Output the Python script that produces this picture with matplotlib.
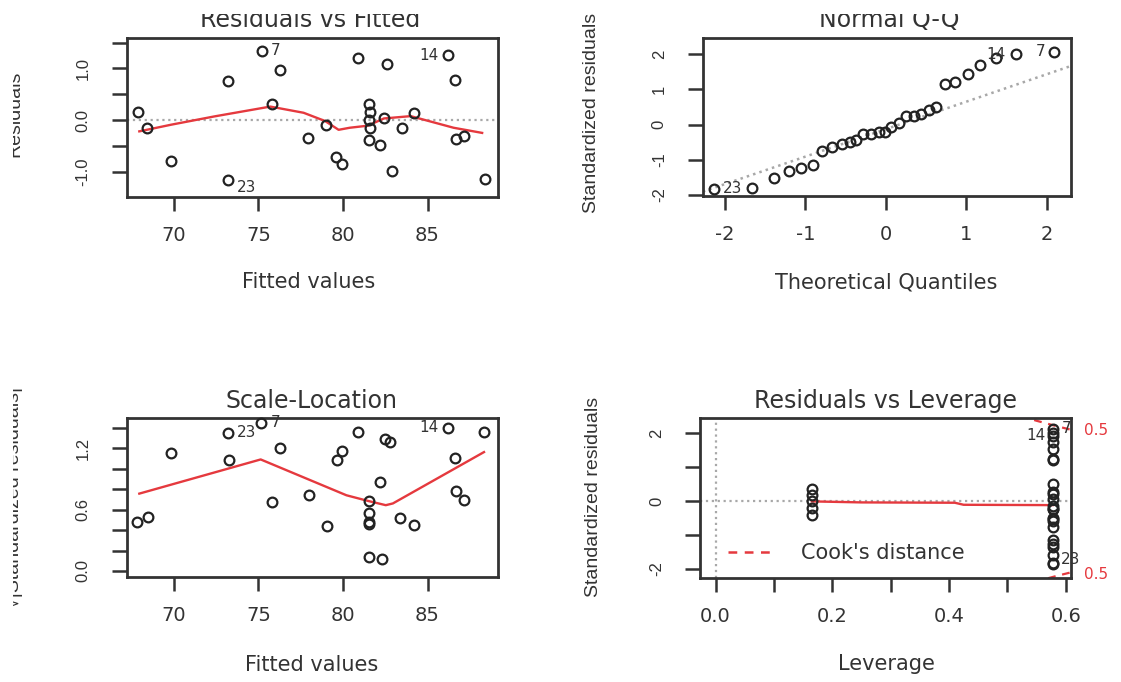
import matplotlib
matplotlib.use("Agg")
import matplotlib.pyplot as plt
from matplotlib.patches import Rectangle
from matplotlib.lines import Line2D
import matplotlib.transforms as mtransforms

plt.rcParams['font.family'] = ['DejaVu Sans']

# ------------------------------------------------------------------ data
# Panel 1: Residuals vs Fitted
fitted = [67.9, 68.4, 69.85, 73.2, 73.2, 75.2, 75.8, 76.3, 77.9, 79.0,
          79.6, 79.95, 80.9, 81.55, 81.6, 81.55, 81.6, 81.55, 82.2, 82.4,
          82.6, 82.9, 83.5, 84.2, 86.2, 86.6, 86.7, 87.15, 88.4]
residuals = [0.16, -0.15, -0.80, 0.75, -1.16, 1.34, 0.31, 0.96, -0.34, -0.10,
             -0.72, -0.85, 1.20, 0.31, 0.16, 0.0, -0.16, -0.39, -0.49, 0.03,
             1.08, -0.99, -0.15, 0.13, 1.25, 0.78, -0.36, -0.31, -1.14]
rf_smooth_x = [67.95, 69.85, 72.4, 75.7, 77.67, 78.94, 79.74, 80.4, 81.47, 82.42, 84.0, 86.54, 88.23]
rf_smooth_y = [-0.22, -0.09, 0.07, 0.26, 0.14, -0.02, -0.19, -0.15, -0.11, 0.03, 0.075, -0.15, -0.25]
rf_labels = {5: "7", 4: "23", 24: "14"}

# Panel 2: Normal Q-Q
qq_theoretical = [-2.14, -1.66, -1.39, -1.20, -1.05, -0.91, -0.79, -0.67, -0.55, -0.45,
                  -0.37, -0.28, -0.18, -0.09, -0.01, 0.07, 0.16, 0.25, 0.35, 0.44,
                  0.54, 0.62, 0.74, 0.86, 1.02, 1.17, 1.37, 1.62, 2.09]
qq_standardized = [-1.82, -1.79, -1.51, -1.32, -1.22, -1.16, -0.75, -0.64, -0.55, -0.50,
                   -0.43, -0.26, -0.26, -0.22, -0.20, -0.07, 0.04, 0.23, 0.25, 0.30,
                   0.41, 0.49, 1.15, 1.20, 1.45, 1.69, 1.88, 2.00, 2.07]
qq_line_intercept = -0.13
qq_line_slope = 0.78
qq_labels = {0: "23", 27: "14", 28: "7"}

# Panel 3: Scale-Location
sl_fitted = [67.83, 68.47, 69.85, 73.17, 73.26, 75.17, 75.8, 76.3, 77.98, 79.04,
             79.64, 79.96, 80.87, 81.55, 81.55, 81.55, 81.55, 81.55, 82.3, 82.2,
             82.5, 82.8, 83.4, 84.2, 86.2, 86.6, 86.7, 87.15, 88.36]
sl_sqrt_std = [0.474, 0.529, 1.153, 1.351, 1.081, 1.448, 0.675, 1.205, 0.740, 0.442,
               1.088, 1.169, 1.357, 0.682, 0.562, 0.48, 0.455, 0.133, 0.117, 0.870,
               1.286, 1.26, 0.519, 0.448, 1.399, 1.107, 0.782, 0.692, 1.357]
sl_smooth_x = [67.95, 75.13, 80.2, 81.47, 82.53, 82.95, 88.34]
sl_smooth_y = [0.756, 1.09, 0.74, 0.685, 0.643, 0.66, 1.162]
sl_labels = {3: "23", 5: "7", 24: "14"}

# Panel 4: Residuals vs Leverage
leverage = [0.165] * 5 + [0.578] * 24
lev_std_resid = [0.35, 0.18, 0.0, -0.20, -0.40,
                 2.14, 2.00, 1.92, 1.73, 1.54, 1.25, 1.20, 0.50, 0.26, 0.21,
                 0.05, -0.16, -0.24, -0.24, -0.50, -0.54, -0.58, -0.78, -1.15, -1.28,
                 -1.36, -1.58, -1.82, -1.86]
lev_smooth_x = [0.165, 0.25, 0.41, 0.425, 0.578]
lev_smooth_y = [-0.01, -0.04, -0.05, -0.11, -0.12]
cook_lev = [0.45, 0.48, 0.52, 0.55, 0.58, 0.61]
cook_upper = [2.81, 2.69, 2.52, 2.37, 2.23, 2.10]
cook_lower = [-2.81, -2.69, -2.52, -2.37, -2.23, -2.10]
cook_level_label = "0.5"
lev_labels = {5: "7", 6: "14", 28: "23"}

# ------------------------------------------------------------------ style
W, H = 1121, 682
DARK = '#333333'
PT = '#222222'
RED = '#e5393e'
GREY = '#a8a8a8'

fig = plt.figure(figsize=(W / 100, H / 100), dpi=100)
fig.patch.set_facecolor('white')


def rect(l, t, r, b):
    return [l / W, 1 - b / H, (r - l) / W, (b - t) / H]


def ftext(px, py, s, **kw):
    kw.setdefault('color', DARK)
    return fig.text(px / W, 1 - py / H, s, **kw)


def style(ax, xticks, xlabels, yticks, ylabels, xlim, ylim):
    ax.set_xlim(*xlim)
    ax.set_ylim(*ylim)
    ax.set_xticks(xticks)
    ax.set_xticklabels(xlabels, fontsize=14, color=DARK)
    ax.set_yticks(yticks)
    ax.set_yticklabels(ylabels, fontsize=12, color=DARK,
                       family=['Liberation Sans', 'DejaVu Sans'],
                       rotation=90, va='center')
    for s in ax.spines.values():
        s.set_linewidth(2.0)
        s.set_color(DARK)
    ax.tick_params(axis='x', length=10, width=1.8, color=DARK, pad=11)
    ax.tick_params(axis='y', length=11, width=1.8, color=DARK, pad=15)


def pts(ax, x, y):
    ax.plot(x, y, linestyle='none', marker='o', markersize=7,
            markerfacecolor='none', markeredgecolor=PT, markeredgewidth=1.6,
            zorder=3, clip_on=False)


def labels(ax, x, y, lab, offsets):
    for i, s in lab.items():
        dx, dy = offsets[i]
        ax.annotate(s, (x[i], y[i]), xytext=(dx, dy), textcoords='offset pixels',
                    ha='center', va='center', fontsize=11, color=DARK,
                    annotation_clip=False)


# ---------------- panel 1
ax1 = fig.add_axes(rect(126.8, 38.3, 498.2, 196.7))
style(ax1, [70, 75, 80, 85], ['70', '75', '80', '85'],
      [-1.0, -0.5, 0.0, 0.5, 1.0, 1.5], ['-1.0', '', '0.0', '', '1.0', ''],
      (67.21, 89.18), (-1.486, 1.583))
ax1.axhline(0, color=GREY, linestyle=':', linewidth=1.6, zorder=1)
ax1.plot(rf_smooth_x, rf_smooth_y, color=RED, linewidth=1.7, zorder=2)
pts(ax1, fitted, residuals)
labels(ax1, fitted, residuals, rf_labels, {5: (14, 0), 4: (19, -8), 24: (-19, 0)})

# ---------------- panel 2
ax2 = fig.add_axes(rect(702.9, 37.7, 1070.7, 196.0))
style(ax2, [-2, -1, 0, 1, 2], ['-2', '-1', '0', '1', '2'],
      [-2, -1, 0, 1, 2], ['-2', '-1', '0', '1', '2'],
      (-2.275, 2.30), (-2.03, 2.47))
ax2.axline((0, qq_line_intercept), slope=qq_line_slope, color=GREY,
           linestyle=':', linewidth=1.8, zorder=1)
pts(ax2, qq_theoretical, qq_standardized)
labels(ax2, qq_theoretical, qq_standardized, qq_labels,
       {0: (19, 0), 27: (-20, 0), 28: (-13, 0)})

# ---------------- panel 3
ax3 = fig.add_axes(rect(126.8, 417.7, 498.2, 576.7))
style(ax3, [70, 75, 80, 85], ['70', '75', '80', '85'],
      [0.0, 0.2, 0.4, 0.6, 0.8, 1.0, 1.2, 1.4],
      ['0.0', '', '', '0.6', '', '', '1.2', ''],
      (67.21, 89.18), (-0.056, 1.498))
ax3.plot(sl_smooth_x, sl_smooth_y, color=RED, linewidth=1.7, zorder=2)
pts(ax3, sl_fitted, sl_sqrt_std)
labels(ax3, sl_fitted, sl_sqrt_std, sl_labels, {3: (19, 0), 5: (14, 0), 24: (-19, 0)})

# ---------------- panel 4
ax4 = fig.add_axes(rect(700.4, 417.7, 1070.7, 578.3))
style(ax4, [0.0, 0.1, 0.2, 0.3, 0.4, 0.5, 0.6],
      ['0.0', '', '0.2', '', '0.4', '', '0.6'],
      [-2, -1, 0, 1, 2], ['-2', '', '0', '', '2'],
      (-0.0259, 0.6085), (-2.28, 2.46))
ax4.axhline(0, color=GREY, linestyle=':', linewidth=1.6, zorder=1)
ax4.axvline(0, color=GREY, linestyle=':', linewidth=1.6, zorder=1)
ax4.plot(cook_lev, cook_upper, color=RED, linestyle=(0, (3.5, 3)), linewidth=1.6, zorder=2)
ax4.plot(cook_lev, cook_lower, color=RED, linestyle=(0, (3.5, 3)), linewidth=1.6, zorder=2)
ax4.plot(lev_smooth_x, lev_smooth_y, color=RED, linewidth=1.7, zorder=2)
pts(ax4, leverage, lev_std_resid)
labels(ax4, leverage, lev_std_resid, lev_labels, {5: (14, 0), 6: (-17, -2), 28: (18, 5)})
btrans = mtransforms.blended_transform_factory(ax4.transAxes, ax4.transData)
ax4.text(1.036, cook_upper[-1] - 0.02, cook_level_label, transform=btrans, color=RED,
         fontsize=11, ha='left', va='center', clip_on=False)
ax4.text(1.036, cook_lower[-1] - 0.08, cook_level_label, transform=btrans, color=RED,
         fontsize=11, ha='left', va='center', clip_on=False)
leg = ax4.legend([Line2D([], [], color=RED, linestyle=(0, (3.5, 3)), linewidth=1.8)],
                 ["Cook's distance"], loc='center left', bbox_to_anchor=(0.0745, 0.156),
                 frameon=False, fontsize=15, handlelength=2.07, handletextpad=1.44,
                 borderpad=0, borderaxespad=0)
for t in leg.get_texts():
    t.set_color(DARK)

# ---------------- titles & axis labels
tkw = dict(ha='center', va='baseline', fontsize=17)
ftext(310, 27, "Residuals vs Fitted", **tkw)
ftext(889, 27, "Normal Q-Q", **tkw)
ftext(312, 408, "Scale-Location", **tkw)
ftext(886, 408, "Residuals vs Leverage", **tkw)

xkw = dict(ha='center', va='baseline', fontsize=15)
ftext(309, 288, "Fitted values", **xkw)
ftext(886.6, 288, "Theoretical Quantiles", **xkw)
ftext(312, 671, "Fitted values", **xkw)
ftext(886, 670, "Leverage", **xkw)

ykw = dict(rotation=90, va='center', fontsize=14, family=['Liberation Sans', 'DejaVu Sans'])
ftext(23, 114, "Residuals", ha='right', **ykw)
ftext(591, 113, "Standardized residuals", ha='center', **ykw)
ftext(23, 497, "\u221a|Standardized residuals|", ha='right', **ykw)
ftext(593, 497, "Standardized residuals", ha='center', **ykw)

# cropped edges of the original screenshot
fig.patches.append(Rectangle((0, 1 - 14 / H), 1, 14 / H, transform=fig.transFigure,
                             facecolor='white', edgecolor='none', zorder=20))
fig.patches.append(Rectangle((0, 0), 13 / W, 1, transform=fig.transFigure,
                             facecolor='white', edgecolor='none', zorder=20))

fig.savefig("out.png", dpi=100, facecolor='white')
